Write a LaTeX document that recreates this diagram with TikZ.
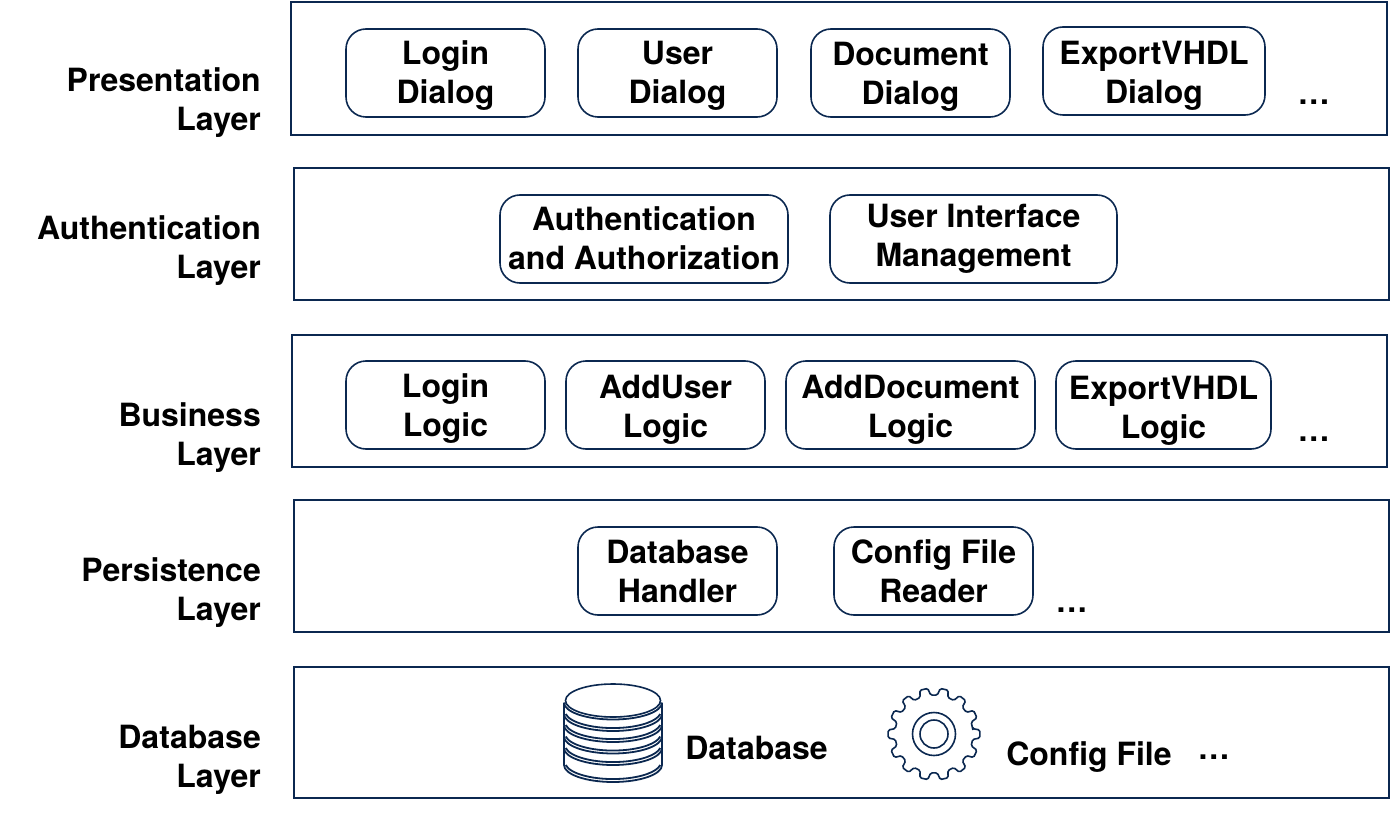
\documentclass[tikz,border=0pt]{standalone}
\usepackage{fontspec}
\setmainfont{TeX Gyre Heros}
\definecolor{navy}{HTML}{0B2850}
\tikzset{
  x=1pt,y=-1pt,
  layerbox/.style={draw=navy,line width=2pt,fill=white},
  modframe/.style={draw=navy,line width=1.6pt,rounded corners=20pt,inner sep=0pt},
  lbl/.style={anchor=east,align=right,inner sep=0pt,font=\fontsize{32}{39}\selectfont\bfseries,text=black},
  modtext/.style={align=center,inner sep=0pt,font=\fontsize{32}{39}\selectfont\bfseries,text=black},
  plain/.style={inner sep=0pt,font=\fontsize{32}{39}\selectfont\bfseries,text=black},
  icon/.style={draw=navy,line width=1.6pt,fill=white},
  iconline/.style={draw=navy,line width=1.8pt}
}
% name, x0,y0,x1,y1, text centre y, line one, line two
\newcommand{\modbox}[8]{%
  \node[modframe,minimum width={(#4-#2)*1pt},minimum height={(#5-#3)*1pt}] (#1) at ({(#2+#4)/2},{(#3+#5)/2}) {};
  \node[modtext] (#1-t) at ({(#2+#4)/2},#6) {\strut #7\\\strut #8};}
\newcommand{\layerlabel}[4]{\node[lbl] (#1) at (261,#2) {\strut #3\\\strut #4};}
\newcommand{\threedots}{.\kern1.8pt.\kern1.8pt.}
% bottom of the disc, length of its side
\newcommand{\stackdisc}[2]{%
  \fill[white] (564,#1-17) arc[start angle=180,end angle=0,x radius=49,y radius=17]
     -- (662,#1-17-#2) -- (564,#1-17-#2) -- cycle;
  \draw[iconline] (564,#1-17-#2) -- (564,#1-17) arc[start angle=180,end angle=0,x radius=49,y radius=17]
     -- (662,#1-17-#2);
  \draw[iconline] (565.7,#1-17) arc[start angle=170,end angle=10,x radius=48,y radius=17];}
\begin{document}
\begin{tikzpicture}
\useasboundingbox (0,0) rectangle (1391,834);
\draw[layerbox] (291,2) rectangle (1387,135);
\draw[layerbox] (294,168) rectangle (1389,300);
\draw[layerbox] (292,335) rectangle (1387,467);
\draw[layerbox] (294,500) rectangle (1389,632);
\draw[layerbox] (294,667) rectangle (1389,798);

\layerlabel{l1}{103.5}{Presentation}{Layer}
\layerlabel{l2}{251.5}{Authentication}{Layer}
\layerlabel{l3}{438.5}{Business}{Layer}
\layerlabel{l4}{593.5}{Persistence}{Layer}
\layerlabel{l5}{760.5}{Database}{Layer}

\modbox{a1}{346}{29}{545}{117}{76.5}{Login}{Dialog}
\modbox{a2}{578}{29}{777}{117}{76.5}{User}{Dialog}
\modbox{a3}{811}{29}{1010}{117}{77.5}{Document}{Dialog}
\modbox{a4}{1043}{27}{1265}{115}{76.5}{ExportVHDL}{Dialog}
\node[plain] (d1) at (1313.8,102.3) {\threedots};

\modbox{b1}{500}{195}{788}{283}{242.5}{Authentication}{and Authorization}
\modbox{b2}{830}{195}{1117}{283}{239.5}{User Interface}{Management}

\modbox{c1}{346}{361}{545}{449}{409.5}{Login}{Logic}
\modbox{c2}{566}{361}{765}{449}{410.5}{AddUser}{Logic}
\modbox{c3}{786}{361}{1035}{449}{410.5}{AddDocument}{Logic}
\modbox{c4}{1056}{361}{1271}{449}{411.5}{ExportVHDL}{Logic}
\node[plain] (d3) at (1313.8,439.3) {\threedots};

\modbox{e1}{578}{527}{777}{615}{575.5}{Database}{Handler}
\modbox{e2}{834}{527}{1033}{615}{575.5}{Config File}{Reader}
\node[plain] (d4) at (1071.7,610) {\threedots};

% database icon
\stackdisc{782}{17}
\stackdisc{765}{11.5}
\stackdisc{753.5}{11}
\stackdisc{742}{11}
\stackdisc{731}{11}
\stackdisc{719.5}{0}
\draw[icon] (613,700.5) ellipse[x radius=47.5,y radius=16.5];
\node[plain] (t1) at (756.5,748) {Database};

% gear
\draw[navy,line width=1.6pt,fill=white,rounded corners=1.5pt]
  ({934+39*cos(-8)},{734+39*sin(-8)})
  \foreach \i in {0,...,13}{
    -- ({934+46*cos(25.714*\i-5)},{734+46*sin(25.714*\i-5)})
    -- ({934+46*cos(25.714*\i+5)},{734+46*sin(25.714*\i+5)})
    -- ({934+39*cos(25.714*\i+8)},{734+39*sin(25.714*\i+8)})
    -- ({934+39*cos(25.714*\i+17.7)},{734+39*sin(25.714*\i+17.7)})
  } -- cycle;
\draw[icon] (934,734) circle[radius=21.5];
\draw[icon] (934,734) circle[radius=14];
\node[plain] (t2) at (1089,757) {Config File};
\node[plain] (d5) at (1213.8,757.3) {\threedots};
\end{tikzpicture}
\end{document}
